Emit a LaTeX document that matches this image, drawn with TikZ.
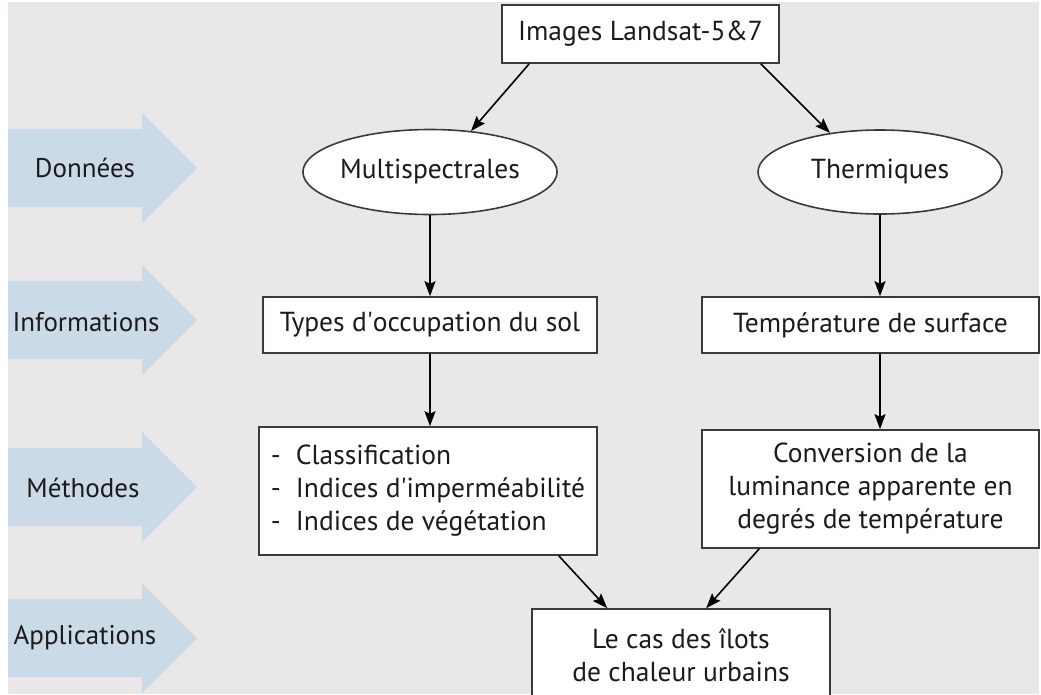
\documentclass[tikz,border=0pt]{standalone}
\usepackage{fontspec}
\setmainfont{PT Sans}
\usetikzlibrary{shapes.geometric,arrows.meta,calc}
\definecolor{bggray}{HTML}{E9E7E8}
\definecolor{bandblue}{HTML}{CBDAE7}
\definecolor{inkc}{HTML}{1E1A1B}
\definecolor{edgec}{HTML}{3A3A3A}
\tikzset{
  box/.style={draw=edgec, line width=1.6pt, fill=white, rectangle, inner sep=0pt, text=inkc, font=\fontsize{27.5}{33}\selectfont},
  oval/.style={draw=edgec, line width=1.6pt, fill=white, ellipse, inner sep=0pt, text=inkc, font=\fontsize{27.5}{33}\selectfont},
  flow/.style={draw=black, line width=1.6pt, -{Stealth[length=15pt,width=11pt,inset=2.5pt]}},
  band/.style={fill=bandblue, draw=none},
  bandlabel/.style={text=inkc, font=\fontsize{27}{33}\selectfont, anchor=center}
}
\begin{document}
\begin{tikzpicture}[x=1pt,y=-1pt]
\useasboundingbox (0,0) rectangle (1041,694);
\fill[bggray] (0,0) rectangle (1041,694);
\fill[white] (0,0) rectangle (8,694);
\fill[white] (1039,0) rectangle (1041,694);
\fill[white] (0,0) rectangle (1041,2);
% band arrows
\foreach \cy in {168,320,487,638}{
  \fill[band] (8,\cy-39) -- (142,\cy-39) -- (142,\cy-55) -- (197,\cy) -- (142,\cy+55) -- (142,\cy+39) -- (8,\cy+39) -- cycle;
}
\node[bandlabel] (lab1) at (85,168) {Données};
\node[bandlabel] (lab2) at (86,322) {Informations};
\node[bandlabel] (lab3) at (83,488) {Méthodes};
\node[bandlabel] (lab4) at (85,638) {Applications};
% nodes
\node[box, minimum width=277pt, minimum height=58pt] (top) at (640.5,34) {Images Landsat-5\&7};
\node[oval, minimum width=243pt, minimum height=85pt] (multi) at (430,172) {Multispectrales};
\node[oval, minimum width=244pt, minimum height=84pt] (therm) at (880,172) {Thermiques};
\node[box, minimum width=334pt, minimum height=56pt] (types) at (430,325) {Types d\textquotesingle occupation du sol};
\node[box, minimum width=337pt, minimum height=56pt] (temp) at (870.5,325) {Température de surface};
\node[box, minimum width=338pt, minimum height=128pt, align=left] (meth) at (428,491)
  {-\hspace{0.55em}Classification\\-\hspace{0.55em}Indices d\textquotesingle imperméabilité\\-\hspace{0.55em}Indices de végétation};
\node[box, minimum width=337pt, minimum height=118pt, align=center] (conv) at (870.5,489)
  {Conversion de la\\luminance apparente en\\degrés de température};
\node[box, minimum width=298pt, minimum height=91pt, align=center, text depth=0pt] (apps) at (681,654.5)
  {Le cas des îlots\\de chaleur urbains};
% connectors
\draw[flow] ([xshift=28pt]top.south west) -- (multi.45);
\draw[flow] ([xshift=-19pt]top.south east) -- (therm.142);
\draw[flow] (multi.south) -- (multi.south |- types.north);
\draw[flow] (therm.south) -- (therm.south |- temp.north);
\draw[flow] (types.south) -- (types.south |- meth.north);
\draw[flow] (therm.south |- temp.south) -- (therm.south |- conv.north);
\draw[flow] ([xshift=-39pt]meth.south east) -- ([xshift=76pt]apps.north west);
\draw[flow] ([xshift=58pt]conv.south west) -- ([xshift=175pt]apps.north west);
\end{tikzpicture}
\end{document}
